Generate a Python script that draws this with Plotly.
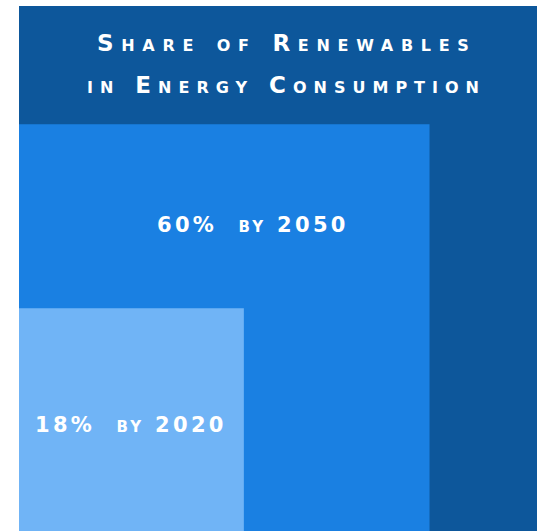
import math
import plotly.graph_objects as go

# Data
labels = ["Total", "60% by 2050", "18% by 2020"]
shares = [1.0, 0.60, 0.18]
colors = ["#0D579B", "#1A80E2", "#70B4F6"]
title_lines = ["Share of Renewables", "in Energy Consumption"]

# label anchor positions (data coords)
label_x = [None, 0.4415, 0.2104]
label_y = [None, 0.583, 0.202]

fig = go.Figure()
# invisible trace to establish axes
fig.add_trace(go.Scatter(x=[0, 1], y=[0, 1], mode="markers",
                         marker=dict(opacity=0), hoverinfo="skip", showlegend=False))

for s, c in zip(shares, colors):
    side = math.sqrt(s)
    fig.add_shape(type="rect", xref="x", yref="y", x0=0, y0=0, x1=side, y1=side,
                  fillcolor=c, line=dict(width=0), layer="below")

def styled(t, sp):
    return f'<span style="letter-spacing:{sp}px">{t}</span>'

for lab, lx, ly in zip(labels[1:], label_x[1:], label_y[1:]):
    fig.add_annotation(x=lx, y=ly, xref="x", yref="y", showarrow=False,
                       text=styled(lab.replace(" by", "&nbsp; by"), 3.3),
                       font=dict(family="DejaVu Sans", size=21, color="white",
                                 weight="bold", variant="small-caps"),
                       xanchor="center", yanchor="middle")

for t, ty, sp, tx in zip(title_lines, [0.9295, 0.8495], [7.7, 7.0], [0.505, 0.505]):
    fig.add_annotation(x=tx, y=ty, xref="x", yref="y", showarrow=False,
                       text=styled(t, sp),
                       font=dict(family="DejaVu Sans", size=23, color="white",
                                 weight="bold", variant="small-caps"),
                       xanchor="center", yanchor="middle")

fig.update_layout(
    width=537, height=531,
    margin=dict(l=19, r=0, t=6, b=0),
    paper_bgcolor="white", plot_bgcolor="white",
    xaxis=dict(range=[0, 0.9774], visible=False, fixedrange=True),
    yaxis=dict(range=[0, 1], visible=False, fixedrange=True),
    showlegend=False,
)

fig.write_html("out.html", config={"displayModeBar": False},
               post_script="document.body.style.margin='0';document.body.style.overflow='hidden';")
